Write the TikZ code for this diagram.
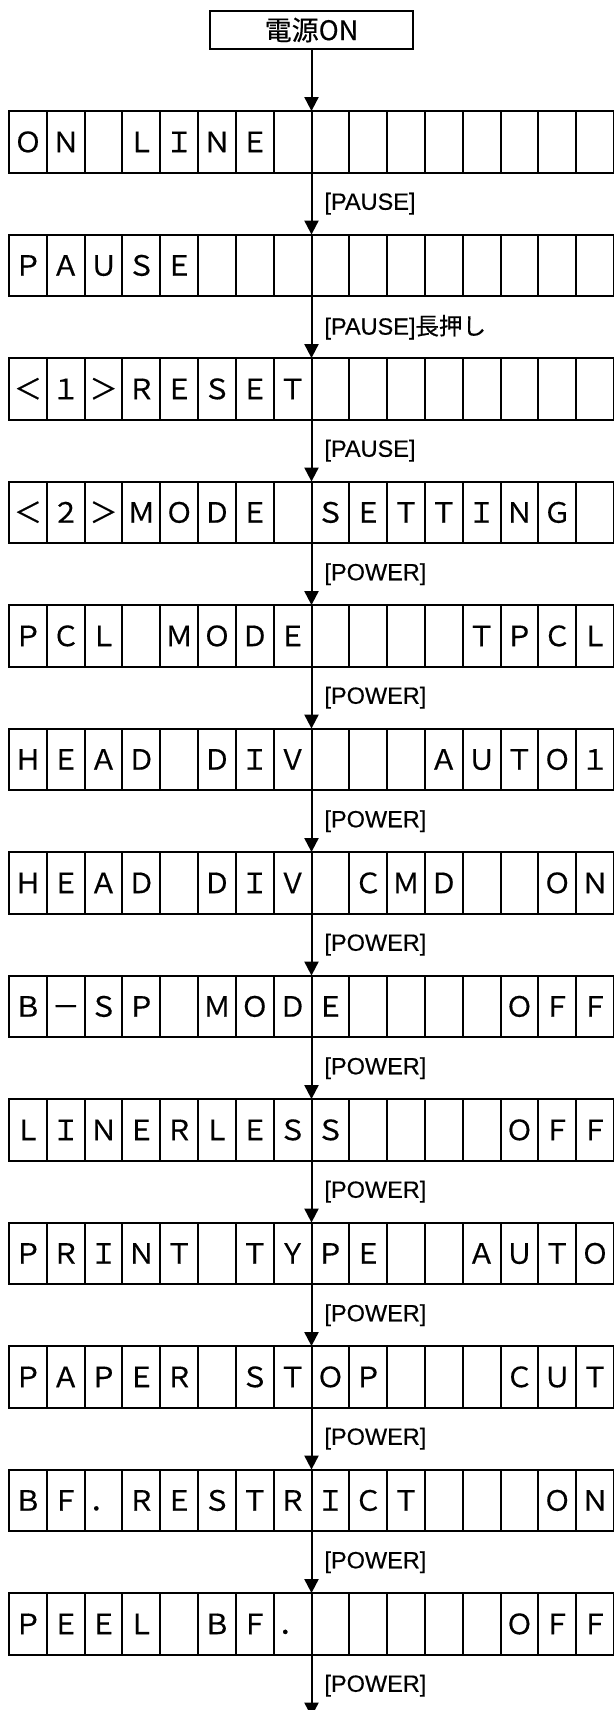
\documentclass[tikz,border=0pt]{standalone}
\usepackage{fontspec}
\newfontfamily\lblfont{Liberation Sans}[FakeBold=0.4]
\newfontfamily\jpfont{Noto Sans CJK JP}[FakeBold=0.4]
\usetikzlibrary{arrows.meta,positioning,calc}
\tikzset{
startbox/.style={draw,line width=2pt,outer sep=0pt,minimum width=202pt,minimum height=38.6pt,inner sep=0pt,font=\jpfont\fontsize{27}{27}\selectfont},
lcd/.style={draw,line width=2pt,outer sep=0pt,minimum width=604.8pt,minimum height=61.7pt,inner sep=0pt},
cell/.style={draw,line width=2pt,minimum width=37.8pt,minimum height=61.7pt,inner sep=0pt,text height=20.5pt,text depth=0pt,font=\jpfont\fontsize{28}{28}\selectfont},
flow/.style={-{Triangle[length=14pt,width=14pt]},line width=2pt},
keylabel/.style={anchor=west,inner sep=0pt,xshift=12pt,font=\lblfont\fontsize{23.5}{23.5}\selectfont}
}
\newcommand\lcdcells[2]{\foreach \c [count=\i] in {#2}
  \node[cell] (#1-\i) at ($(#1.west)+(\i*37.8pt-18.9pt,0)$) {\c};}

\begin{document}
\begin{tikzpicture}[node distance=61.8pt]
\useasboundingbox (-311.5pt,30pt) rectangle (301.5pt,-1680pt);
\node[startbox](s) at (0,0) {電源ON};
\node[lcd,below=of s](r1){};
\node[lcd,below=of r1](r2){};
\node[lcd,below=of r2](r3){};
\node[lcd,below=of r3](r4){};
\node[lcd,below=of r4](r5){};
\node[lcd,below=of r5](r6){};
\node[lcd,below=of r6](r7){};
\node[lcd,below=of r7](r8){};
\node[lcd,below=of r8](r9){};
\node[lcd,below=of r9](r10){};
\node[lcd,below=of r10](r11){};
\node[lcd,below=of r11](r12){};
\node[lcd,below=of r12](r13){};
\coordinate[below=of r13](e);
% display contents, one cell per character
\lcdcells{r1}{Ｏ,Ｎ,　,Ｌ,Ｉ,Ｎ,Ｅ,　,　,　,　,　,　,　,　,　}
\lcdcells{r2}{Ｐ,Ａ,Ｕ,Ｓ,Ｅ,　,　,　,　,　,　,　,　,　,　,　}
\lcdcells{r3}{＜,１,＞,Ｒ,Ｅ,Ｓ,Ｅ,Ｔ,　,　,　,　,　,　,　,　}
\lcdcells{r4}{＜,２,＞,Ｍ,Ｏ,Ｄ,Ｅ,　,Ｓ,Ｅ,Ｔ,Ｔ,Ｉ,Ｎ,Ｇ,　}
\lcdcells{r5}{Ｐ,Ｃ,Ｌ,　,Ｍ,Ｏ,Ｄ,Ｅ,　,　,　,　,Ｔ,Ｐ,Ｃ,Ｌ}
\lcdcells{r6}{Ｈ,Ｅ,Ａ,Ｄ,　,Ｄ,Ｉ,Ｖ,　,　,　,Ａ,Ｕ,Ｔ,Ｏ,１}
\lcdcells{r7}{Ｈ,Ｅ,Ａ,Ｄ,　,Ｄ,Ｉ,Ｖ,　,Ｃ,Ｍ,Ｄ,　,　,Ｏ,Ｎ}
\lcdcells{r8}{Ｂ,－,Ｓ,Ｐ,　,Ｍ,Ｏ,Ｄ,Ｅ,　,　,　,　,Ｏ,Ｆ,Ｆ}
\lcdcells{r9}{Ｌ,Ｉ,Ｎ,Ｅ,Ｒ,Ｌ,Ｅ,Ｓ,Ｓ,　,　,　,　,Ｏ,Ｆ,Ｆ}
\lcdcells{r10}{Ｐ,Ｒ,Ｉ,Ｎ,Ｔ,　,Ｔ,Ｙ,Ｐ,Ｅ,　,　,Ａ,Ｕ,Ｔ,Ｏ}
\lcdcells{r11}{Ｐ,Ａ,Ｐ,Ｅ,Ｒ,　,Ｓ,Ｔ,Ｏ,Ｐ,　,　,　,Ｃ,Ｕ,Ｔ}
\lcdcells{r12}{Ｂ,Ｆ,．,Ｒ,Ｅ,Ｓ,Ｔ,Ｒ,Ｉ,Ｃ,Ｔ,　,　,　,Ｏ,Ｎ}
\lcdcells{r13}{Ｐ,Ｅ,Ｅ,Ｌ,　,Ｂ,Ｆ,．,　,　,　,　,　,Ｏ,Ｆ,Ｆ}
% key presses
\draw[flow](s)--(r1);
\draw[flow](r1)--node[keylabel]{[PAUSE]}(r2);
\draw[flow](r2)--node[keylabel]{[PAUSE]{\jpfont 長押し}}(r3);
\draw[flow](r3)--node[keylabel]{[PAUSE]}(r4);
\draw[flow](r4)--node[keylabel]{[POWER]}(r5);
\draw[flow](r5)--node[keylabel]{[POWER]}(r6);
\draw[flow](r6)--node[keylabel]{[POWER]}(r7);
\draw[flow](r7)--node[keylabel]{[POWER]}(r8);
\draw[flow](r8)--node[keylabel]{[POWER]}(r9);
\draw[flow](r9)--node[keylabel]{[POWER]}(r10);
\draw[flow](r10)--node[keylabel]{[POWER]}(r11);
\draw[flow](r11)--node[keylabel]{[POWER]}(r12);
\draw[flow](r12)--node[keylabel]{[POWER]}(r13);
\draw[flow](r13)--node[keylabel]{[POWER]}(e);
\end{tikzpicture}
\end{document}
